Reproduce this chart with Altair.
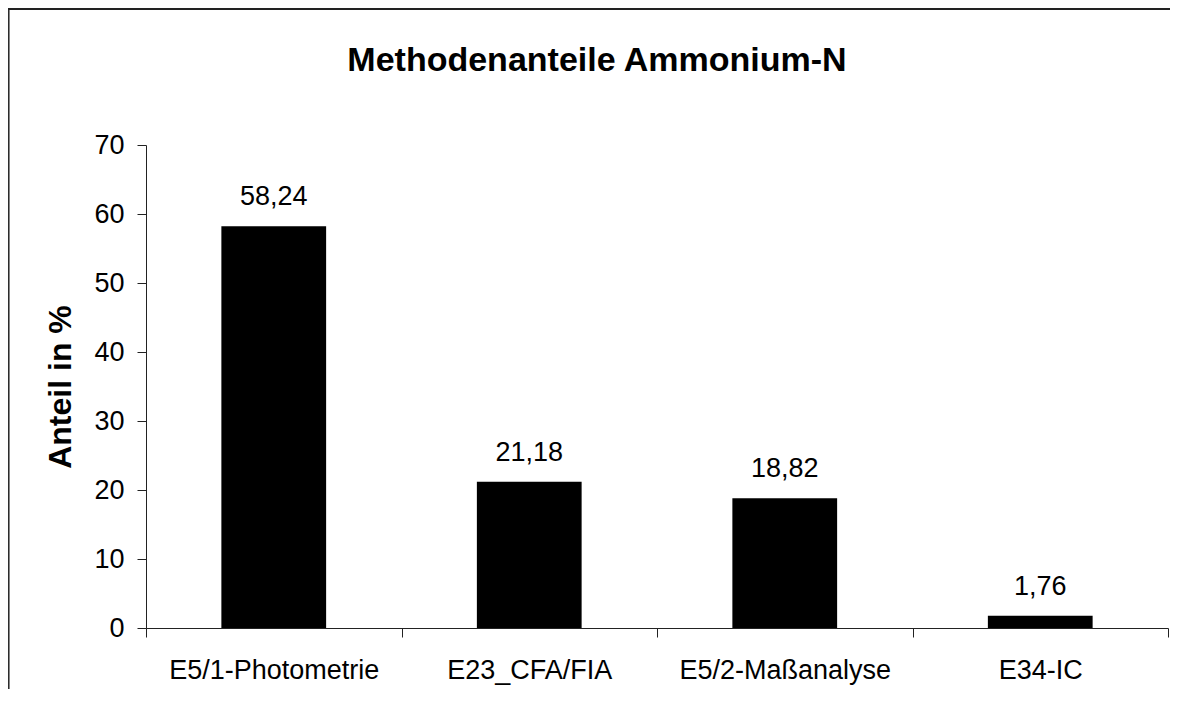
import altair as alt
import pandas as pd

categories = ["E5/1-Photometrie", "E23_CFA/FIA", "E5/2-Maßanalyse", "E34-IC"]
values = [58.24, 21.18, 18.82, 1.76]
y_ticks = [0, 10, 20, 30, 40, 50, 60, 70]

df = pd.DataFrame({"Methode": categories, "Anteil": values})
df["Label"] = [f"{v:.2f}".replace(".", ",") for v in values]

FONT = "Liberation Sans"
AX = "#222222"

x = alt.X(
    "Methode:N", sort=categories, title=None,
    scale=alt.Scale(paddingInner=0, paddingOuter=0),
    axis=alt.Axis(labelAngle=0, labelFontSize=27, labelFont=FONT, labelColor="black",
                  labelLimit=0, tickBand="extent", tickSize=9, labelPadding=20,
                  domainColor=AX, tickColor=AX, grid=False),
)
y = alt.Y(
    "Anteil:Q", title="Anteil in %",
    scale=alt.Scale(domain=[0, 70], nice=False),
    axis=alt.Axis(values=y_ticks, tickSize=9, labelPadding=13, grid=False,
                  labelFontSize=27, labelFont=FONT, labelColor="black",
                  domainColor=AX, tickColor=AX,
                  titleFont=FONT, titleFontSize=32, titleFontWeight="bold", titleColor="black",
                  titleAngle=-90, titleAlign="center", titleBaseline="alphabetic",
                  titleX=-76, titleY=241.5),
)

bars = alt.Chart(df).mark_bar(color="black", width=alt.RelativeBandSize(0.41)).encode(x=x, y=y)
labels = alt.Chart(df).mark_text(dy=-21, baseline="alphabetic", fontSize=27, font=FONT,
                                 color="black").encode(x=x, y=y, text="Label:N")

border_df = pd.DataFrame({"b": [0]})
top_line = alt.Chart(border_df).mark_rule(color="#222222", strokeWidth=2).encode(
    x=alt.value(-138), x2=alt.value(1024), y=alt.value(-136)
)
left_line = alt.Chart(border_df).mark_rule(color="#222222", strokeWidth=1.5).encode(
    x=alt.value(-137.2), y=alt.value(-137), y2=alt.value(544)
)

chart = alt.layer(top_line, left_line, bars, labels).properties(
    width=1022, height=483,
    background="white",
    title=alt.TitleParams("Methodenanteile Ammonium-N", font=FONT, fontSize=34,
                          fontWeight="bold", color="black", anchor="middle", frame="group",
                          dx=-60, dy=98, offset=0, baseline="alphabetic"),
    autosize=alt.AutoSizeParams(type="none"),
    padding={"left": 138, "top": 137, "right": 3, "bottom": 62},
).configure_view(stroke="transparent", strokeWidth=0)

chart.save("out.html", embed_options={"renderer": "svg", "actions": False})
